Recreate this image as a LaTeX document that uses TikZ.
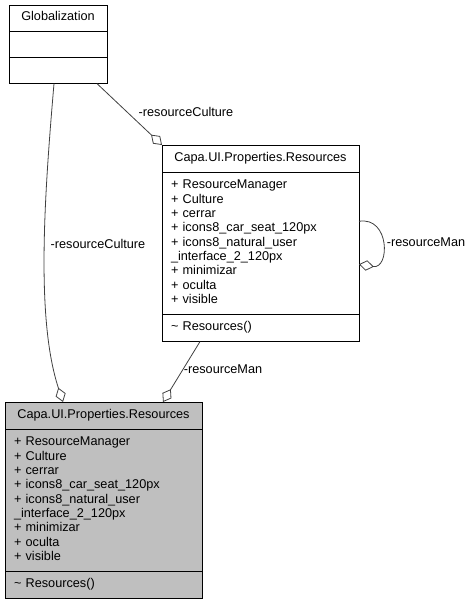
\documentclass[tikz,border=0pt]{standalone}
\usepackage{fontspec}
\setmainfont{Liberation Sans}
\usetikzlibrary{shapes.multipart,arrows.meta,positioning}
\definecolor{edgegray}{RGB}{64,64,64}
\definecolor{classgray}{RGB}{191,191,191}
\newcommand{\umlfont}{\fontsize{12.7}{14.3}\selectfont}
\newcommand{\classname}[1]{\makebox[\hsize]{\strut #1}}

\tikzset{
    classbox/.style={rectangle split, rectangle split parts=3, draw=black,
        line width=0.9pt, font=\umlfont, text width=#1, inner xsep=9pt,
        inner ysep=6.1pt, align=left, outer sep=0pt},
    classbox/.default=179pt,
    aggr/.style={draw=edgegray, line width=0.8pt,
        -{Diamond[open,length=15pt,width=10.5pt]}},
    rolelabel/.style={font=\umlfont, inner sep=0pt}
}

\begin{document}
\begin{tikzpicture}[x=1pt,y=-1pt]
            \useasboundingbox (0,0) rectangle (472,603);

            \node [classbox=80pt, inner ysep=5.5pt, anchor=north west] (glob) at (9,5)
                {\classname{Globalization}
                 \nodepart{two}\strut
                 \nodepart{three}\strut};

            \node [classbox, anchor=north west] (resA) at (162,145)
                {\classname{Capa.UI.Properties.Resources}
                 \nodepart{two}\strut + ResourceManager\\
                 + Culture\\
                 + cerrar\\
                 + icons8\_car\_seat\_120px\\
                 + icons8\_natural\_user\\
                 \_interface\_2\_120px\\
                 + minimizar\\
                 + oculta\\
                 + visible\strut
                 \nodepart{three}\strut \textasciitilde{} Resources()\strut};

            \node [classbox, fill=classgray, anchor=north west] (resB) at (5,402)
                {\classname{Capa.UI.Properties.Resources}
                 \nodepart{two}\strut + ResourceManager\\
                 + Culture\\
                 + cerrar\\
                 + icons8\_car\_seat\_120px\\
                 + icons8\_natural\_user\\
                 \_interface\_2\_120px\\
                 + minimizar\\
                 + oculta\\
                 + visible\strut
                 \nodepart{three}\strut \textasciitilde{} Resources()\strut};

            % aggregations
            \draw [aggr] ([xshift=-4pt]glob.south)
                .. controls (44,200) and (36,320) .. ([xshift=-40.5pt]resB.north);
            \draw [aggr] ([xshift=39pt]glob.south) -- (resA.north west);
            \draw [aggr] ([yshift=22pt]resA.east)
                .. controls +(31,-5) and +(31,5) .. ([yshift=-21pt]resA.east);
            \draw [aggr] ([xshift=-60.5pt]resA.south) -- ([xshift=59.5pt]resB.north);

            \node [rolelabel] (cultB) at (98,244) {-resourceCulture};
            \node [rolelabel] (cultA) at (186,112) {-resourceCulture};
            \node [rolelabel] (manA) at (426,242) {-resourceMan};
            \node [rolelabel] (manB) at (223,369) {-resourceMan};
\end{tikzpicture}
\end{document}
